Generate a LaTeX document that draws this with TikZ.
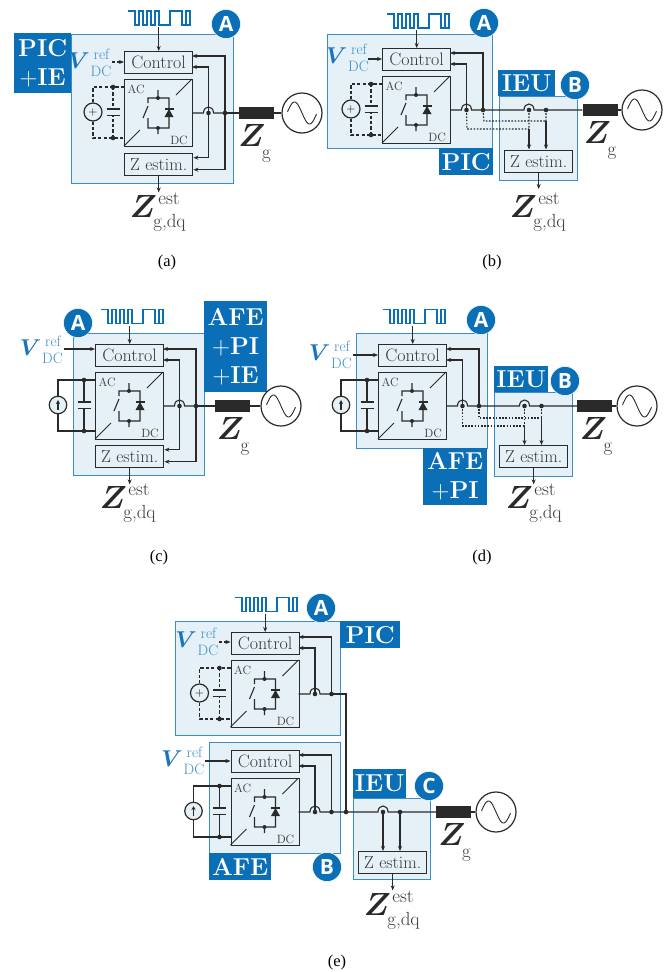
\documentclass[tikz,border=0pt]{standalone}
\usepackage{fontspec}
\usepackage{amsmath}
\usepackage{bm}
\usetikzlibrary{arrows.meta}
\newfontfamily\badgefont{Open Sans}
\newfontfamily\capfont{Liberation Serif}
\definecolor{lblue}{HTML}{0B6FB8}
\definecolor{bord}{HTML}{3B8DC9}
\definecolor{pale}{HTML}{E5F0F7}
\definecolor{vtxt}{HTML}{1A74BC}
\definecolor{vsub}{HTML}{3F8FCB}
\definecolor{ink}{HTML}{2A2A2A}
\definecolor{boxtxt}{HTML}{3A3A3A}
\tikzset{
 region/.style={draw=bord,fill=pale,line width=1.4pt,rectangle,inner sep=0pt,anchor=north west},
 tagbox/.style={fill=lblue,text=white,rectangle,inner sep=0pt,anchor=north west,align=center,
   font=\fontsize{24.5}{29}\selectfont\bfseries},
 badgec/.style={circle,fill=lblue,draw=white,line width=0.5pt,inner sep=0pt,minimum size=29pt,text=white,
   font=\fontsize{21}{21}\badgefont\bfseries\selectfont},
 unitbox/.style={draw=ink,line width=1.4pt,rectangle,inner sep=0pt,anchor=north west,text=boxtxt,
   font=\fontsize{18}{20}\selectfont},
 zbox/.style={unitbox,font=\fontsize{17.5}{20}\selectfont},
 wire/.style={draw=ink,line width=1.1pt},
 awire/.style={draw=ink,line width=1.1pt,-{Stealth[length=5pt,width=4pt]}},
 dwire/.style={draw=ink,line width=1.1pt,dash pattern=on 3.2pt off 2.2pt},
 dotw/.style={draw=ink,line width=1.1pt,dash pattern=on 1.6pt off 1.6pt},
 dot/.style={circle,fill=ink,inner sep=0pt,minimum size=4.6pt},
 srcn/.style={circle,draw=ink,line width=1.2pt,inner sep=0pt,fill=pale},
 acn/.style={circle,draw=ink,line width=1.2pt,inner sep=0pt,minimum size=40pt,fill=white},
 imp/.style={rectangle,fill=ink,inner sep=0pt,minimum width=35pt,minimum height=11.5pt},
 acdc/.style={text=boxtxt,inner sep=0pt,anchor=base,font=\fontsize{12}{12}\selectfont},
 bigz/.style={inner sep=0pt,anchor=base,text=ink,scale=1.29},
 bigv/.style={inner sep=0pt,anchor=base,text=vtxt,scale=0.92},
 zsub/.style={inner sep=0pt,anchor=base,text=boxtxt,font=\fontsize{19}{19}\selectfont},
 vsubt/.style={inner sep=0pt,anchor=base,text=vsub,font=\fontsize{15}{15}\selectfont},
 pulsep/.style={draw=lblue,line width=1.05pt},
 caplab/.style={inner sep=0pt,font=\fontsize{16.5}{18}\capfont},
}
% control box + converter + output hop and junction, arrows to control
\newcommand{\ctlconv}[3]{%
\begin{scope}[shift={(#2,#3)}]
 \node[unitbox,minimum width=68pt,minimum height=22pt] (#1ctl) at (0,0) {Control};
 \node[unitbox,minimum width=68pt,minimum height=67pt] (#1conv) at (0,28) {};
 \node[acdc] (#1ac) at (12,42) {AC};
 \node[acdc] (#1dc) at (55,93) {DC};
 \draw[wire,line width=0.9pt] (0,95) -- (16,79) (52,44) -- (68,28);
 \draw[wire] (34,39) -- (34,47) (24,52) -- (24,47) -- (45,47) -- (45,77) -- (24,77) -- (24,67) (34,77) -- (34,83) (24,55) -- (19,67);
 \node[dot,minimum size=4pt] (#1sa) at (34,47) {};
 \node[dot,minimum size=4pt] (#1sb) at (34,77) {};
 \fill[ink] (40.5,66) -- (49.5,66) -- (45,58) -- cycle;
 \draw[wire] (40.5,58) -- (49.5,58);
 \coordinate (#1out) at (68,62);
 \coordinate (#1hl) at (79.5,62);
 \coordinate (#1hr) at (89.5,62);
 \node[dot] (#1hop) at (84.5,62) {};
 \node[dot] (#1jun) at (101,62) {};
 \coordinate (#1ca) at (68,5);
 \coordinate (#1cb) at (68,16);
\end{scope}
 \draw[wire] (#1out) -- (#1hl) .. controls ([yshift=8pt]#1hl) and ([yshift=8pt]#1hr) .. (#1hr) -- (#1jun.center);
 \draw[awire] (#1jun.center) |- (#1ca);
 \draw[awire] (#1hop.center) |- (#1cb);
}
% estimator box at x,y
\newcommand{\zestbox}[3]{%
 \node[zbox,minimum width=68pt,minimum height=22pt] (#1) at (#2,#3) {Z estim.};
 \coordinate (#1a) at ([yshift=7pt]#1.east);
 \coordinate (#1b) at ([yshift=-5pt]#1.east);
 \coordinate (#1oa) at ([yshift=-16pt]#1.south);
 \draw[awire] (#1.south) -- (#1oa);
}
% internal estimator wiring: panels (a),(c)
\newcommand{\zinner}[2]{%
 \draw[awire] (#1hop.center) |- (#2a);
 \draw[awire] (#1jun.center) |- (#2b);
}
% IEU hop and junction on the line
\newcommand{\ieuhop}[3]{%
 \coordinate (#1hl) at (#2-5,#3);
 \coordinate (#1hr) at (#2+5,#3);
 \node[dot] (#1hop) at (#2,#3) {};
 \node[dot] (#1jun) at (#2+17,#3) {};
}
% pulses
\newcommand{\pulsew}[3]{%
\begin{scope}[shift={(#2,#3)}]
 \draw[pulsep] (0,0) -- (7,0) -- (7,14) -- (11,14) -- (11,0) -- (15,0) -- (15,14) -- (19,14) -- (19,0) -- (23,0) -- (23,14) -- (27,14) -- (27,0) -- (31,0) -- (31,14) -- (42,14) -- (42,0) -- (54,0) -- (54,14) -- (58,14) -- (58,0) -- (62,0) -- (62,14) -- (59,14);
 \coordinate (#1p) at (30,16);
\end{scope}
 \draw[awire] (#1p -| #1ctl.north) -- (#1ctl.north);
}
% voltage source, dashed
\newcommand{\dcvsrc}[3]{%
\begin{scope}[shift={(#2,#3)}]
 \node[srcn,minimum size=18pt] (#1src) at (-31,61) {\fontsize{12}{12}\selectfont\raisebox{0.5pt}{$+$}};
 \node[dot] (#1jt) at (-11,36) {};
 \node[dot] (#1jb) at (-11,87) {};
 \coordinate (#1ct) at (-11,58);
 \coordinate (#1cb2) at (-11,64.5);
 \coordinate (#1wt) at (0,36);
 \coordinate (#1wb) at (0,87);
 \draw[wire] (-17.5,58) -- (-4.5,58) (-17.5,64.5) -- (-4.5,64.5);
\end{scope}
 \draw[dwire] (#1src.north) |- (#1jt.center) -- (#1wt);
 \draw[dwire] (#1src.south) |- (#1jb.center) -- (#1wb);
 \draw[dwire] (#1jt.center) -- (#1ct);
 \draw[dwire] (#1jb.center) -- (#1cb2);
}
% current source, solid
\newcommand{\accsrc}[3]{%
\begin{scope}[shift={(#2,#3)}]
 \node[srcn,minimum size=17.5pt] (#1src) at (-37,61) {};
 \node[dot] (#1jt) at (-11,36) {};
 \node[dot] (#1jb) at (-11,87) {};
 \coordinate (#1ct) at (-11,58);
 \coordinate (#1cb2) at (-11,64.5);
 \coordinate (#1wt) at (0,36);
 \coordinate (#1wb) at (0,87);
 \coordinate (#1au) at (-37,56);
 \coordinate (#1ad) at (-37,66);
 \draw[wire] (-17.5,58) -- (-4.5,58) (-17.5,64.5) -- (-4.5,64.5);
\end{scope}
 \draw[wire,-{Stealth[length=4pt,width=4pt]}] (#1ad) -- (#1au);
 \draw[wire] (#1src.north) |- (#1jt.center) -- (#1wt);
 \draw[wire] (#1src.south) |- (#1jb.center) -- (#1wb);
 \draw[wire] (#1jt.center) -- (#1ct);
 \draw[wire] (#1jb.center) -- (#1cb2);
}
% impedance + grid source. name, R centre x, y, source x, Z offset
\newcommand{\gridz}[5]{%
 \node[imp] (#1R) at (#2,#3) {};
 \node[acn] (#1G) at (#4,#3) {};
 \draw[wire] (#1R) -- (#1G);
 \begin{scope}[shift={(#4,#3)}]
  \draw[wire,line width=0.9pt] plot[domain=-14.5:14.5,samples=40,smooth] ({\x},{11*sin(\x*12)});
 \end{scope}
 \node[bigz] (#1Z) at (#2+#5,#3+33.5) {\fontsize{24.88}{25}\selectfont$\bm{Z}$};
 \node[zsub] (#1g) at (#2+#5+14.5,#3+45) {g};
}
\newcommand{\zestlab}[3]{%
 \node[bigz] (#1Z) at (#2,#3) {\fontsize{24.88}{25}\selectfont$\bm{Z}$};
 \node[zsub] (#1e) at (#2+25.5,#3-13) {est};
 \node[zsub] (#1s) at (#2+26,#3+10) {g,dq};
}
\newcommand{\vreflab}[3]{%
 \node[bigv] (#1V) at (#2-1.5,#3) {\fontsize{24.88}{25}\selectfont$\bm{V}$};
 \node[vsubt] (#1r) at (#2+21,#3-8.5) {ref};
 \node[vsubt] (#1d) at (#2+20.5,#3+8.5) {DC};
}
\begin{document}
\begin{tikzpicture}[x=1pt,y=-1pt]
\useasboundingbox[fill=white] (0,0) rectangle (667,972);

%% (a)
\node[region,minimum width=162pt,minimum height=149pt] (aA) at (71,34) {};
\node[tagbox,minimum width=57pt,minimum height=60pt] (aT) at (14,33) {PIC\\$+$IE};
\node[badgec] (aB) at (226,24) {A};
\ctlconv{a}{124}{51}
\pulsew{a}{128}{11}
\zestbox{az}{124}{153}
\zinner{a}{az}
\dcvsrc{a}{124}{51}
\gridz{ag}{256.5}{113}{302}{-4.5}
\draw[wire] (ajun.center) -- (agR);
\vreflab{av}{80.5}{68}
\coordinate (avs) at (112,62); \coordinate (ave) at (124,62);
\draw[dwire,-{Stealth[length=5pt,width=4pt]}] (avs) -- (ave);
\zestlab{al}{143.5}{217}
\node[caplab] (acap) at (167,263) {(a)};

%% (b)
\node[region,minimum width=165pt,minimum height=114pt] (bA) at (327,34) {};
\node[region,minimum width=78pt,minimum height=84pt] (bI) at (499,96) {};
\node[tagbox,minimum width=54pt,minimum height=27pt] (bT) at (439,148) {PIC};
\node[tagbox,minimum width=57pt,minimum height=26pt] (bU) at (498,70) {IEU};
\node[badgec] (bBa) at (484,23) {A};
\node[badgec] (bBb) at (575,85) {B};
\ctlconv{b}{382}{48}
\pulsew{b}{387}{14}
\dcvsrc{b}{382}{48}
\gridz{bg}{600}{110}{642}{-2.5}
\zestbox{bz}{504}{149.5}
\ieuhop{bi}{529}{110}
\draw[wire] (bjun.center) -- (bihl) .. controls ([yshift=8pt]bihl) and ([yshift=8pt]bihr) .. (bihr) -- (bgR);
\coordinate (bda) at (484,121); \coordinate (bdb) at (467,129);
\coordinate (bdc) at (546,121); \coordinate (bdd) at (529,129);
\coordinate (bta) at (546,149.5); \coordinate (btb) at (529,149.5);
\draw[dotw] (bjun.center) -- (bda) -- (bdc) (bijun.center) -- (bdc);
\draw[dotw] (bhop.center) -- (bdb) -- (bdd) (bihop.center) -- (bdd);
\draw[awire] (bdc) -- (bta);
\draw[awire] (bdd) -- (btb);
\vreflab{bv}{338}{63}
\coordinate (bvs) at (368,59); \coordinate (bve) at (382,59);
\draw[awire] (bvs) -- (bve);
\zestlab{bl}{523.5}{217}
\node[caplab] (bcap) at (492,263) {(b)};

%% (c)
\node[region,minimum width=131pt,minimum height=142pt] (cA) at (73,333) {};
\node[tagbox,minimum width=63pt,minimum height=91pt] (cT) at (204,301) {AFE\\$+$PI\\$+$IE};
\node[badgec] (cB) at (78,323) {A};
\ctlconv{c}{95}{344}
\pulsew{c}{101}{309.5}
\zestbox{cz}{95}{445}
\zinner{c}{cz}
\accsrc{c}{95}{344}
\gridz{cg}{232.5}{406}{281}{-2}
\draw[wire] (cjun.center) -- (cgR);
\vreflab{cv}{32}{355}
\coordinate (cvs) at (64,349); \coordinate (cve) at (95,349);
\draw[awire] (cvs) -- (cve);
\zestlab{cl}{113.5}{508}
\node[caplab] (ccap) at (159,558) {(c)};

%% (d)
\node[region,minimum width=131pt,minimum height=115pt] (dA) at (356,333) {};
\node[region,minimum width=78pt,minimum height=84pt] (dI) at (494,392) {};
\node[tagbox,minimum width=64pt,minimum height=57pt] (dT) at (423,448) {AFE\\$+$PI};
\node[tagbox,minimum width=54pt,minimum height=26pt] (dU) at (494,366) {IEU};
\node[badgec] (dBa) at (481,320) {A};
\node[badgec] (dBb) at (565,381) {B};
\ctlconv{d}{378}{344}
\pulsew{d}{383}{309.5}
\accsrc{d}{378}{344}
\gridz{dg}{594.5}{406}{637}{-1}
\zestbox{dz}{499}{445}
\ieuhop{di}{524.5}{406}
\draw[wire] (djun.center) -- (dihl) .. controls ([yshift=8pt]dihl) and ([yshift=8pt]dihr) .. (dihr) -- (dgR);
\coordinate (dda) at (479,418); \coordinate (ddb) at (462.5,426);
\coordinate (ddc) at (541.5,418); \coordinate (ddd) at (524.5,426);
\coordinate (dta) at (541.5,445); \coordinate (dtb) at (524.5,445);
\draw[dotw] (djun.center) -- (dda) -- (ddc) (dijun.center) -- (ddc);
\draw[dotw] (dhop.center) -- (ddb) -- (ddd) (dihop.center) -- (ddd);
\draw[awire] (ddc) -- (dta);
\draw[awire] (ddd) -- (dtb);
\vreflab{dv}{321}{360}
\coordinate (dvs) at (353,355); \coordinate (dve) at (378,355);
\draw[awire] (dvs) -- (dve);
\zestlab{dl}{519.5}{508}
\node[caplab] (dcap) at (482,558) {(d)};

%% (e)
\node[region,minimum width=165pt,minimum height=114pt] (eA) at (175,621) {};
\node[region,minimum width=131pt,minimum height=111pt] (eB) at (209,742) {};
\node[region,minimum width=77pt,minimum height=81pt] (eI) at (353,798) {};
\node[tagbox,minimum width=60pt,minimum height=27pt] (eT) at (340,621) {PIC};
\node[tagbox,minimum width=62pt,minimum height=27pt] (eU) at (209,853) {AFE};
\node[tagbox,minimum width=53pt,minimum height=29pt] (eW) at (353,769) {IEU};
\node[badgec] (eBa) at (321,608) {A};
\node[badgec] (eBb) at (327,867) {B};
\node[badgec] (eBc) at (429,786) {C};
\ctlconv{e}{230.5}{632}
\pulsew{e}{235}{597.5}
\dcvsrc{e}{230.5}{632}
\ctlconv{f}{230.5}{750}
\accsrc{f}{230.5}{750}
\gridz{eg}{453.5}{812}{496}{-1.5}
\zestbox{ez}{358}{851}
\node[dot] (ex) at (346,812) {};
\ieuhop{ei}{383}{812}
\draw[wire] (ejun.center) -| (ex.center);
\draw[wire] (fjun.center) -- (eihl) .. controls ([yshift=8pt]eihl) and ([yshift=8pt]eihr) .. (eihr) -- (egR);
\coordinate (eta) at (400,851); \coordinate (etb) at (383,851);
\draw[awire] (eijun.center) -- (eta);
\draw[awire] (eihop.center) -- (etb);
\vreflab{ev}{187.5}{647}
\coordinate (evs) at (219,642); \coordinate (eve) at (230.5,642);
\draw[dwire,-{Stealth[length=5pt,width=4pt]}] (evs) -- (eve);
\vreflab{fv}{173.5}{766}
\coordinate (fvs) at (205,761); \coordinate (fve) at (230.5,761);
\draw[awire] (fvs) -- (fve);
\zestlab{el}{377.5}{915}
\node[caplab] (ecap) at (337,963) {(e)};
\end{tikzpicture}
\end{document}
